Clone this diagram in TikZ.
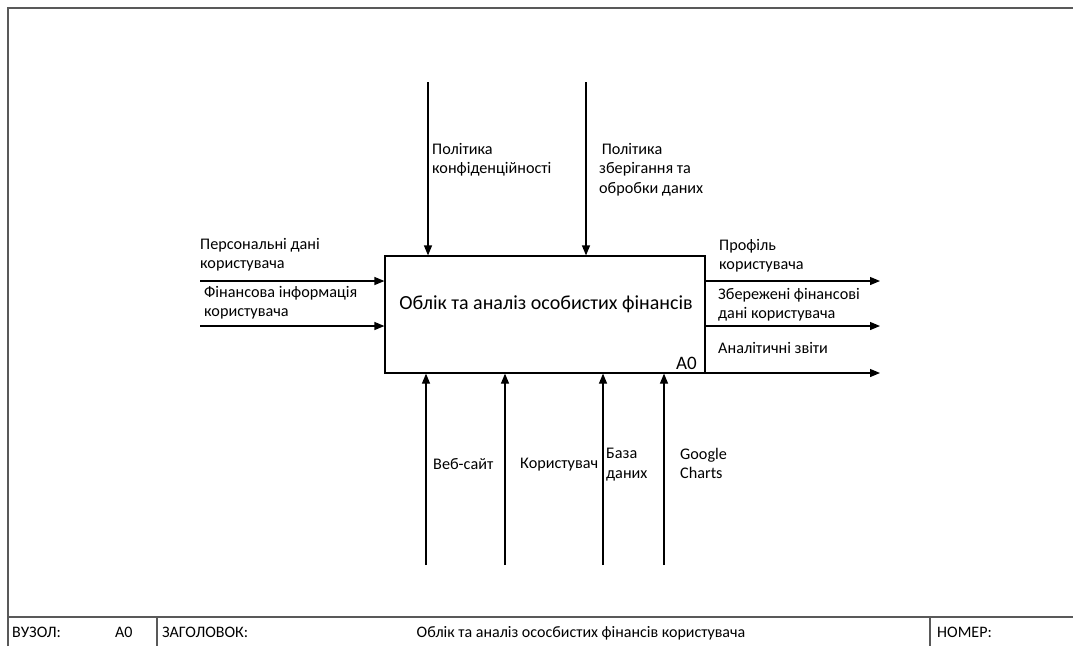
\documentclass[tikz,border=0pt]{standalone}
\usepackage{fontspec}
\setmainfont{Carlito}
\usetikzlibrary{arrows.meta}
\begin{document}
\begin{tikzpicture}[x=1pt,y=-1pt,
  lbl/.style={font=\fontsize{16.2}{19.5}\selectfont, align=left, inner sep=0pt, anchor=north west},
  arr/.style={line width=1.2pt, -{Triangle[length=10pt,width=8pt]}},
  frm/.style={draw=black!65, line width=1.8pt},
  ttl/.style={font=\fontsize{16}{18}\selectfont, inner sep=0pt, anchor=base west}]
\useasboundingbox (0,0) rectangle (1073,646);
% frame
\draw[frm] (8,646) -- (8,8) -- (1073,8);
\draw[frm] (8,617) -- (1073,617);
\draw[frm] (157,617) -- (157,646);
\draw[frm] (930,617) -- (930,646);
% main box
\node[draw, line width=1.2pt, minimum width=320pt, minimum height=117pt, inner sep=0pt] (box) at (545,314.5) {};
\node[font=\fontsize{20}{24}\selectfont, inner sep=0pt] (name) at (546,304) {Облік та аналіз особистих фінансів};
\node[font=\fontsize{19}{22}\selectfont, anchor=south east, inner sep=0pt] (num) at (697,370) {A0};
% coordinates
\coordinate (i1) at (200,281); \coordinate (i2) at (200,326);
\coordinate (c1) at (428,82); \coordinate (c2) at (586,82);
\coordinate (m1) at (426,565); \coordinate (m2) at (505,565); \coordinate (m3) at (603,565); \coordinate (m4) at (664,565);
\coordinate (o1) at (880,281); \coordinate (o2) at (880,326); \coordinate (o3) at (880,373);
% inputs
\draw[arr] (i1) -- (i1 -| box.west);
\draw[arr] (i2) -- (i2 -| box.west);
% controls
\draw[arr] (c1) -- (c1 |- box.north);
\draw[arr] (c2) -- (c2 |- box.north);
% mechanisms
\draw[arr] (m1) -- (m1 |- box.south);
\draw[arr] (m2) -- (m2 |- box.south);
\draw[arr] (m3) -- (m3 |- box.south);
\draw[arr] (m4) -- (m4 |- box.south);
% outputs
\draw[arr] (o1 -| box.east) -- (o1);
\draw[arr] (o2 -| box.east) -- (o2);
\draw[arr] (o3 -| box.east) -- (o3);
% labels
\node[lbl] (li1) at (200,238) {Персональні дані\\користувача};
\node[lbl] (li2) at (204,286) {Фінансова інформація\\користувача};
\node[lbl] (lc1) at (432,143) {Політика\\конфіденційності};
\node[lbl] (lc2) at (599,143) {\,Політика\\зберігання та\\обробки даних};
\node[lbl] (lo1) at (719,239) {Профіль\\користувача};
\node[lbl] (lo2) at (718,288) {Збережені фінансові\\дані користувача};
\node[lbl] (lo3) at (718,342) {Аналітичні звіти};
\node[lbl] (lm1) at (433,458) {Веб-сайт};
\node[lbl] (lm2) at (520,458) {Користувач};
\node[lbl] (lm3) at (606,448) {База\\даних};
\node[lbl] (lm4) at (680,448) {Google\\Charts};
% title bar
\node[ttl] (t1) at (12,637) {ВУЗОЛ:};
\node[ttl] (t2) at (115,637) {A0};
\node[ttl] (t3) at (162,637) {ЗАГОЛОВОК:};
\node[font=\fontsize{16}{18}\selectfont, inner sep=0pt, anchor=base] (t4) at (581,637) {Облік та аналіз ососбистих фінансів користувача};
\node[ttl] (t5) at (937,637) {НОМЕР:};
\end{tikzpicture}
\end{document}
